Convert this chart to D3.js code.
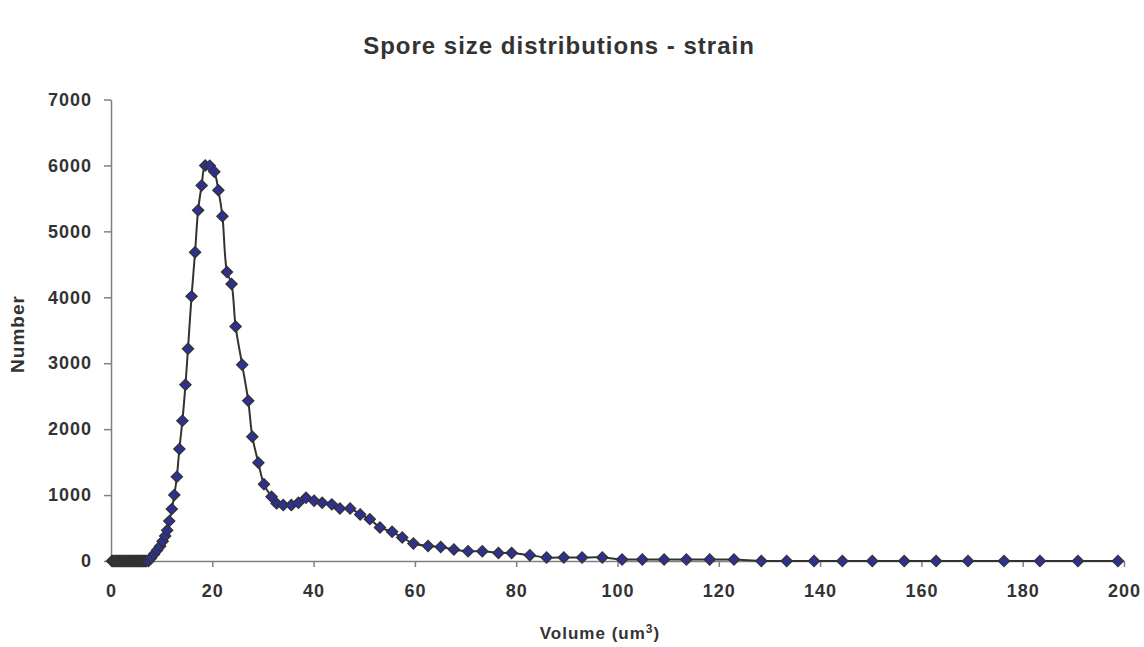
<!DOCTYPE html>
<html>
<head>
<meta charset="utf-8">
<script src="https://cdn.jsdelivr.net/npm/d3@7"></script>
<style>
  html, body { margin: 0; padding: 0; background: #fff; }
  svg { display: block; }
  text { font-family: "Liberation Sans", Arial, sans-serif; font-weight: bold; fill: #333; }
</style>
</head>
<body>
<svg id="chart" width="1144" height="647"></svg>
<script>
// ---- data ----
const chartTitle = "Spore size distributions - strain";
const xTitle = "Volume (um";
const xTitleSup = "3";
const yTitle = "Number";

const xTicks = [0, 20, 40, 60, 80, 100, 120, 140, 160, 180, 200];
const yTicks = [0, 1000, 2000, 3000, 4000, 5000, 6000, 7000];

// volume bins (um^3)
const volume = [
  0.2, 0.4, 0.6, 0.8, 1.0, 1.2, 1.4, 1.6, 1.8, 2.0, 2.2, 2.4, 2.6, 2.8, 3.0,
  3.2, 3.4, 3.6, 3.8, 4.0, 4.2, 4.4, 4.6, 4.8, 5.0, 5.2, 5.4, 5.6, 5.8, 6.0,
  6.2, 6.4, 6.6, 6.8, 7.0,
  7.4, 7.9, 8.5, 9.1, 9.7, 10.2, 10.7, 11.1, 11.5, 12.0, 12.5, 13.0, 13.5, 14.1,
  14.7, 15.2, 15.9, 16.6, 17.2, 17.9, 18.6, 19.5, 20.4, 21.2, 22.0, 22.9, 23.8,
  24.6, 25.9, 27.1, 27.9, 29.1, 30.2, 31.7, 32.7, 34.0, 35.6, 37.0, 38.5, 40.1,
  41.7, 43.6, 45.2, 47.2, 49.2, 51.1, 53.1, 55.5, 57.5, 59.7, 62.6, 65.1, 67.7,
  70.5, 73.3, 76.5, 79.1, 82.7, 86.0, 89.4, 93.0, 97.0, 100.9, 104.9, 109.2,
  113.6, 118.2, 123.0, 128.4, 133.4, 138.8, 144.4, 150.3, 156.6, 162.9, 169.2,
  176.3, 183.4, 190.9, 198.8
];
// spore counts
const count = [
  0, 0, 0, 0, 0, 0, 0, 0, 0, 0, 0, 0, 0, 0, 0,
  0, 0, 0, 0, 0, 0, 0, 0, 0, 0, 0, 0, 0, 0, 0,
  0, 0, 0, 0, 0,
  0, 47, 103, 164, 225, 301, 381, 468, 605, 787, 1000, 1278, 1699, 2129,
  2672, 3219, 4014, 4682, 5321, 5696, 6000, 5995, 5904, 5625, 5229, 4384, 4202,
  3558, 2976, 2429, 1886, 1491, 1163, 974, 874, 848, 848, 883, 959, 913,
  883, 859, 798, 798, 707, 635, 509, 442, 357, 266, 229, 212, 175,
  149, 149, 123, 123, 88, 53, 53, 53, 53, 23, 23, 23,
  23, 23, 23, 0, 0, 0, 0, 0, 0, 0, 0,
  0, 0, 0, 0
];

const data = volume.map((v, i) => ({ x: v, y: count[i] }));

// ---- layout ----
const svg = d3.select("#chart");
const x = d3.scaleLinear().domain([0, 200]).range([111, 1124]);
const y = d3.scaleLinear().domain([0, 7000]).range([561, 99.5]);

// title
svg.append("text")
  .attr("x", 559).attr("y", 54)
  .attr("text-anchor", "middle")
  .style("font-size", "24px")
  .style("letter-spacing", "1px")
  .text(chartTitle);

// y axis
const yAxis = svg.append("g")
  .attr("transform", `translate(${x(0)},0)`)
  .call(d3.axisLeft(y).tickValues(yTicks).tickFormat(d3.format("d")).tickSize(7).tickPadding(12).tickSizeOuter(0));
yAxis.select(".domain").attr("stroke", "#808080").attr("stroke-width", 1.5);
yAxis.selectAll(".tick line").attr("stroke", "#808080").attr("stroke-width", 1.5);
yAxis.selectAll(".tick text")
  .style("font-size", "18px").style("font-family", "'Liberation Sans', Arial, sans-serif")
  .style("font-weight", "bold").style("letter-spacing", "1px").attr("fill", "#333");

// x axis
const xAxis = svg.append("g")
  .attr("transform", `translate(0,${y(0)})`)
  .call(d3.axisBottom(x).tickValues(xTicks).tickFormat(d3.format("d")).tickSize(6).tickPadding(17).tickSizeOuter(0));
xAxis.select(".domain").attr("stroke", "#808080").attr("stroke-width", 1.5);
xAxis.selectAll(".tick line").attr("stroke", "#808080").attr("stroke-width", 1.5);
xAxis.selectAll(".tick text")
  .style("font-size", "18px").style("font-family", "'Liberation Sans', Arial, sans-serif")
  .style("font-weight", "bold").style("letter-spacing", "1px").attr("fill", "#333");

// axis titles
const xt = svg.append("text")
  .attr("x", 600).attr("y", 639)
  .attr("text-anchor", "middle")
  .style("font-size", "17px")
  .style("letter-spacing", "1px");
xt.append("tspan").text(xTitle);
xt.append("tspan").attr("dy", -6).style("font-size", "12px").text(xTitleSup);
xt.append("tspan").attr("dy", 6).text(")");

svg.append("text")
  .attr("transform", "translate(24,334) rotate(-90)")
  .attr("text-anchor", "middle")
  .style("font-size", "19px")
  .style("letter-spacing", "1px")
  .text(yTitle);

// line
const line = d3.line()
  .x(d => x(d.x)).y(d => y(d.y))
  .curve(d3.curveCatmullRom.alpha(0.5));
svg.append("path")
  .datum(data)
  .attr("d", line)
  .attr("fill", "none")
  .attr("stroke", "#333333")
  .attr("stroke-width", 2);

// markers
const sym = d3.symbol().type(d3.symbolSquare).size(62);
svg.append("g").selectAll("path")
  .data(data)
  .join("path")
  .attr("d", sym)
  .attr("transform", d => `translate(${x(d.x)},${y(d.y)}) rotate(45)`)
  .attr("fill", "#2E3192")
  .attr("stroke", "#333333")
  .attr("stroke-width", 1.3);
</script>
</body>
</html>
